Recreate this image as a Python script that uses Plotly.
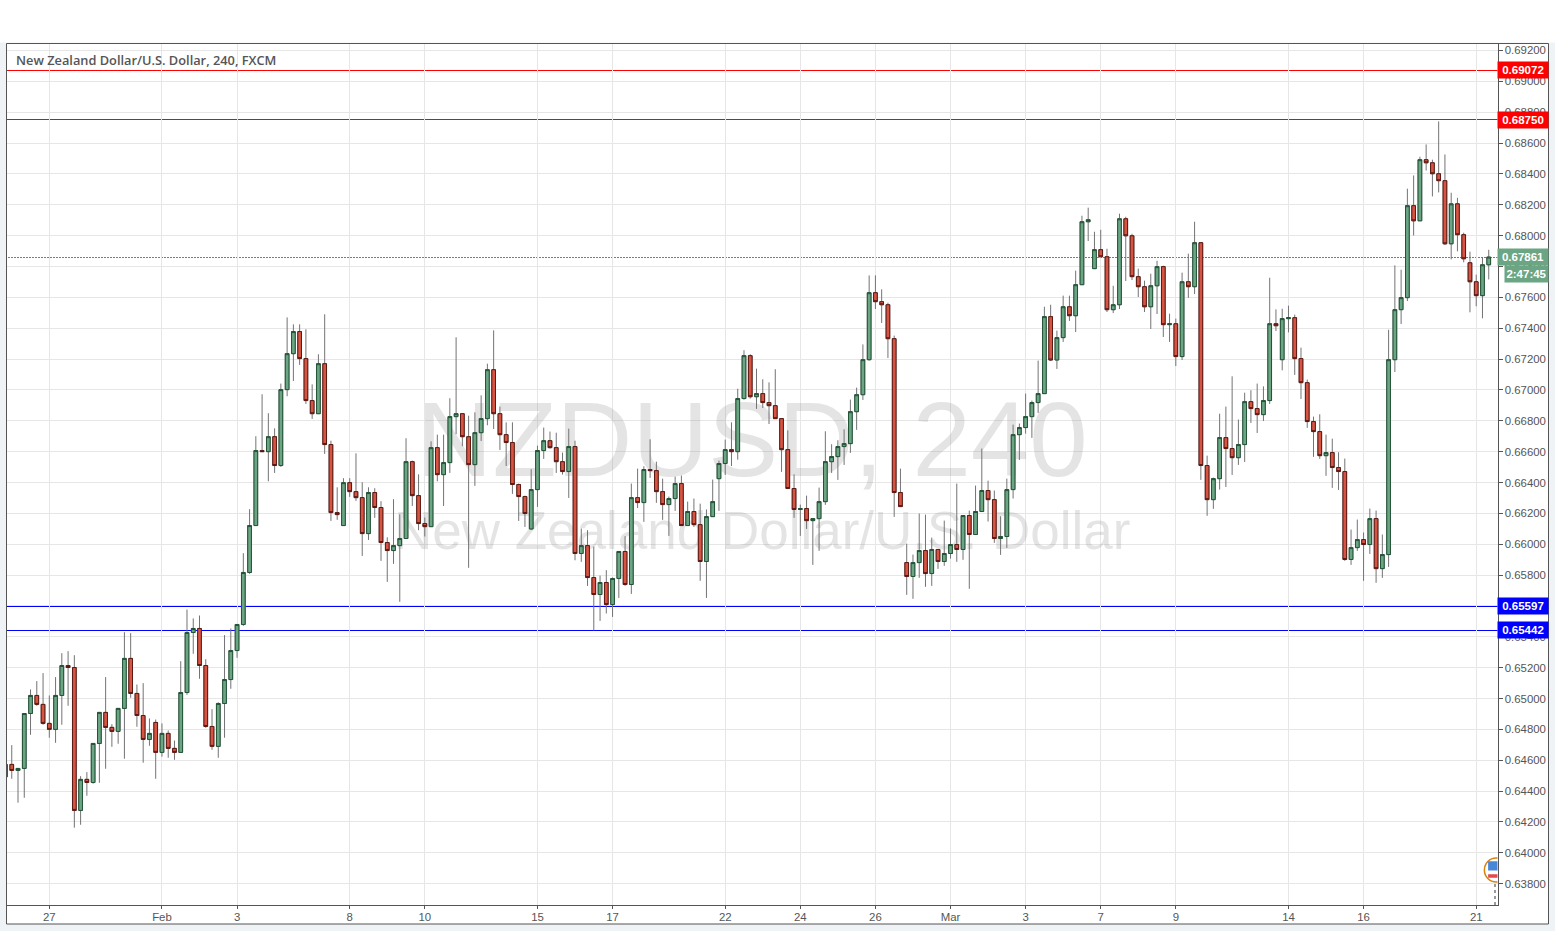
import plotly.graph_objects as go

W, H = 1555, 931

opens = [.64493,.64573,.64534,.64547,.64903,.65020,.64962,.64839,.64800,.65020,
.65214,.65201,.64275,.64476,.64456,.64709,.64910,.64813,.64787,.64936,
.65260,.65033,.64890,.64735,.64845,.64651,.64774,.64677,.64651,.65039,
.65428,.65454,.65214,.64819,.64690,.64968,.65123,.65311,.65480,.65817,
.66121,.66607,.66600,.66697,.66510,.67002,.67235,.67378,.67203,.66931,
.66846,.67170,.66646,.66205,.66121,.66399,.66341,.66302,.66069,.66335,
.66238,.66011,.65959,.65991,.66037,.66535,.66315,.66134,.66114,.66626,
.66451,.66529,.66827,.66846,.66697,.66516,.66723,.66814,.67131,.66846,
.66710,.66659,.66387,.66309,.66099,.66354,.66607,.66671,.66626,.66535,
.66471,.66633,.65940,.65991,.65784,.65674,.65752,.65609,.65778,.65953,
.65739,.66302,.66270,.66484,.66477,.66341,.66257,.66296,.66393,.66121,
.66212,.66127,.65888,.66179,.66425,.66523,.66613,.66600,.66944,.67222,
.66956,.66976,.66918,.66898,.66814,.66613,.66361,.66225,.66231,.66153,
.66166,.66276,.66535,.66568,.66633,.66652,.66859,.66969,.67196,.67630,
.67572,.67552,.67332,.66335,.65881,.65791,.65881,.65959,.65810,.65966,
.65888,.65940,.65998,.65966,.66186,.66063,.66212,.66348,.66289,.66037,
.66050,.66354,.66710,.66756,.66827,.66918,.66976,.67475,.67194,.67339,
.67539,.67481,.67682,.68090,.67786,.67909,.67863,.67520,.67552,.68109,
.67999,.67734,.67669,.67539,.67675,.67799,.67423,.67429,.67216,.67701,
.67669,.67954,.66510,.66289,.66425,.66691,.66620,.66561,.66646,.66924,
.66879,.66840,.66931,.67429,.67196,.67462,.67468,.67203,.67047,.66795,
.66730,.66574,.66594,.66497,.66471,.65901,.65978,.66030,.65998,.66166,
.65842,.65933,.67196,.67520,.67598,.68194,.68096,.68492,.68472,.68401,
.68356,.67947,.68206,.68006,.67824,.67701,.67611,.67811]

highs = [.64573,.64698,.64547,.64903,.65059,.65113,.65165,.65020,.65139,.65294,
.65307,.65281,.64497,.64523,.64709,.64910,.65139,.64834,.64936,.65430,
.65424,.65091,.65100,.64871,.64864,.64839,.64793,.64728,.65242,.65577,
.65519,.65538,.65255,.64931,.64975,.65411,.65454,.65480,.65942,.66227,
.66700,.66972,.66849,.66751,.67041,.67470,.67425,.67425,.67393,.67036,
.67231,.67490,.66671,.66369,.66428,.66428,.66589,.66402,.66369,.66363,
.66279,.66045,.66292,.66194,.66687,.66542,.66453,.66173,.66667,.66710,
.66710,.66946,.67341,.66846,.66833,.66855,.66965,.67170,.67386,.66892,
.66790,.66790,.66393,.66315,.66486,.66639,.66756,.66730,.66723,.66594,
.66749,.66671,.66102,.66091,.65985,.65797,.65832,.65784,.65953,.66052,
.66393,.66490,.66505,.66680,.66535,.66425,.66309,.66438,.66445,.66276,
.66296,.66263,.66225,.66419,.66542,.66678,.66790,.67008,.67257,.67231,
.67138,.67069,.67049,.67134,.66814,.66738,.66453,.66257,.66315,.66166,
.66367,.66732,.66648,.66674,.66745,.66937,.67015,.67295,.67742,.67742,
.67652,.67565,.67352,.66490,.66004,.65933,.66199,.66192,.66043,.65966,
.66153,.66102,.66393,.66186,.66218,.66380,.66620,.66412,.66348,.66181,
.66425,.66775,.66782,.66976,.66931,.67190,.67539,.67552,.67384,.67611,
.67611,.67773,.68129,.68181,.68025,.68038,.67915,.67675,.68142,.68122,
.68012,.67786,.67708,.67753,.67837,.67805,.67494,.67462,.67760,.67883,
.68090,.67954,.66574,.66432,.66846,.66892,.67088,.66808,.66982,.66998,
.67041,.67023,.67727,.67522,.67526,.67546,.67488,.67274,.67067,.66827,
.66842,.66710,.66684,.66596,.66555,.66095,.66160,.66076,.66231,.66218,
.66063,.67390,.67807,.67779,.68304,.68390,.68511,.68591,.68492,.68740,
.68526,.68278,.68245,.68019,.67896,.67747,.67859,.67908]

lows = [.64493,.64480,.64325,.64357,.64765,.64953,.64830,.64746,.64713,.64830,
.64953,.64163,.64182,.64370,.64448,.64454,.64545,.64687,.64707,.64610,
.65005,.64817,.64584,.64694,.64480,.64623,.64616,.64603,.64651,.65024,
.65290,.65128,.64810,.64668,.64616,.64746,.65063,.65264,.65471,.65808,
.66121,.66600,.66408,.66462,.66501,.66959,.67058,.67162,.66909,.66812,
.66846,.66585,.66151,.66158,.66121,.66307,.66281,.65924,.66028,.66171,
.65892,.65756,.65873,.65627,.66037,.66248,.66091,.66050,.66114,.66408,
.66248,.66462,.66713,.66635,.65847,.66378,.66669,.66771,.66747,.66611,
.66507,.66326,.66151,.66112,.66093,.66242,.66553,.66620,.66462,.66451,
.66300,.65896,.65886,.65730,.65441,.65503,.65551,.65529,.65652,.65730,
.65678,.66235,.66145,.66430,.66268,.66158,.66054,.66216,.66121,.66121,
.66112,.65763,.65652,.66179,.66216,.66449,.66507,.66548,.66937,.66944,
.66877,.66883,.66779,.66814,.66469,.66361,.66171,.66054,.66099,.65866,
.65957,.66255,.66462,.66417,.66514,.66592,.66741,.66935,.67190,.67524,
.67434,.67207,.66177,.66244,.65672,.65646,.65782,.65724,.65730,.65840,
.65860,.65907,.65886,.65899,.65711,.66063,.66212,.66147,.66009,.65931,
.65976,.66296,.66546,.66717,.66689,.66851,.66976,.67187,.67136,.67311,
.67447,.67375,.67682,.67965,.67786,.67863,.67505,.67498,.67524,.67706,
.67712,.67602,.67505,.67395,.67492,.67343,.67311,.67155,.67194,.67596,
.67621,.66417,.66184,.66229,.66354,.66371,.66449,.66514,.66533,.66786,
.66721,.66799,.66909,.67382,.67127,.67373,.67097,.66941,.66754,.66566,
.66553,.66443,.66365,.66352,.65892,.65866,.65957,.65763,.65937,.65750,
.65782,.65853,.67116,.67427,.67576,.68001,.68096,.68422,.68254,.68280,
.67939,.67846,.67898,.67827,.67503,.67542,.67464,.67716]

closes = [.64573,.64534,.64547,.64903,.65020,.64962,.64839,.64800,.65020,.65214,
.65201,.64275,.64476,.64456,.64709,.64910,.64813,.64787,.64936,.65260,
.65033,.64890,.64735,.64774,.64651,.64774,.64677,.64651,.65039,.65428,
.65454,.65214,.64819,.64690,.64968,.65123,.65311,.65480,.65817,.66121,
.66607,.66600,.66697,.66510,.67002,.67235,.67378,.67203,.66931,.66846,
.67170,.66646,.66205,.66192,.66399,.66341,.66302,.66069,.66335,.66238,
.66011,.65959,.65991,.66037,.66535,.66315,.66134,.66114,.66626,.66451,
.66529,.66827,.66846,.66697,.66516,.66723,.66814,.67131,.66846,.66710,
.66659,.66387,.66309,.66199,.66354,.66607,.66671,.66626,.66535,.66471,
.66633,.65940,.65991,.65784,.65674,.65752,.65609,.65778,.65953,.65739,
.66302,.66270,.66484,.66477,.66341,.66257,.66296,.66393,.66121,.66212,
.66127,.65888,.66179,.66276,.66523,.66613,.66600,.66944,.67222,.66956,
.66976,.66918,.66898,.66814,.66613,.66361,.66225,.66231,.66153,.66166,
.66276,.66535,.66568,.66633,.66652,.66859,.66969,.67196,.67630,.67572,
.67552,.67332,.66335,.66244,.65791,.65881,.65959,.65810,.65966,.65888,
.65940,.65998,.65966,.66186,.66063,.66212,.66348,.66289,.66037,.66050,
.66354,.66710,.66756,.66827,.66918,.66976,.67475,.67194,.67339,.67539,
.67481,.67682,.68090,.68103,.67909,.67863,.67520,.67552,.68109,.67999,
.67734,.67669,.67539,.67675,.67799,.67423,.67429,.67216,.67701,.67669,
.67954,.66510,.66289,.66425,.66691,.66620,.66561,.66646,.66924,.66879,
.66840,.66931,.67429,.67416,.67462,.67468,.67203,.67047,.66795,.66730,
.66574,.66594,.66497,.66471,.65901,.65978,.66030,.65998,.66166,.65842,
.65933,.67196,.67520,.67598,.68194,.68096,.68492,.68472,.68401,.68356,
.67947,.68206,.68006,.67850,.67701,.67611,.67811,.67861]

candle_index = list(range(-7, 231))
assert len(opens) == len(highs) == len(lows) == len(closes) == len(candle_index)

date_positions = [0, 18, 30, 48, 60, 78, 90, 108, 120, 132, 144, 156, 168, 180, 198, 210, 228]
date_labels = ["27", "Feb", "3", "8", "10", "15", "17", "22", "24", "26", "Mar", "3", "7", "9", "14", "16", "21"]

resistance_levels = [0.69072, 0.68750]
support_levels = [0.65597, 0.65442]
last_price = 0.67861
countdown = "2:47:45"

title_text = "New Zealand Dollar/U.S. Dollar, 240, FXCM"
watermark_symbol = "NZDUSD, 240"
watermark_name = "New Zealand Dollar/U.S. Dollar"

UP, DOWN = "#6BA583", "#D75442"
UP_EDGE, DOWN_EDGE = "#225437", "#5B1A13"
WICK = "#737375"
GRID = "#E6E6E6"
AXIS = "#555555"
TEXT = "#555555"
PAGE = "#F0F3F6"
LAST_LINE = "#3A9F70"

Y_RANGE = [0.63662, 0.69245]
X_RANGE = [-6.76, 231.4]


def px(x):
    return x / W


def py(y):
    return 1 - y / H


fig = go.Figure()

# Watermark on the base y axis so candles paint over it
fig.add_trace(go.Scatter(
    x=[112.3], y=[0.66615], mode="text", text=[watermark_symbol], yaxis="y",
    textfont=dict(family="Liberation Sans", size=105, color="rgba(120,120,120,0.2)"),
    textposition="middle center", hoverinfo="skip", showlegend=False,
))
fig.add_trace(go.Scatter(
    x=[113.9], y=[0.66052], mode="text", text=[watermark_name], yaxis="y",
    textfont=dict(family="Liberation Sans", size=53, color="rgba(120,120,120,0.2)"),
    textposition="middle center", hoverinfo="skip", showlegend=False,
))

# Wicks: full OHLC with gray line
fig.add_trace(go.Candlestick(
    x=candle_index, open=opens, high=highs, low=lows, close=closes, yaxis="y2",
    increasing=dict(line=dict(color=WICK, width=1), fillcolor=UP),
    decreasing=dict(line=dict(color=WICK, width=1), fillcolor=DOWN),
    whiskerwidth=0, hoverinfo="skip", showlegend=False,
))
# Bodies: same candles, range limited to open/close, with dark outline
fig.add_trace(go.Candlestick(
    x=candle_index, open=opens, close=closes, yaxis="y2",
    high=[max(o, c) for o, c in zip(opens, closes)],
    low=[min(o, c) for o, c in zip(opens, closes)],
    increasing=dict(line=dict(color=UP_EDGE, width=1), fillcolor=UP),
    decreasing=dict(line=dict(color=DOWN_EDGE, width=1), fillcolor=DOWN),
    whiskerwidth=0, hoverinfo="skip", showlegend=False,
))

shapes = [
    dict(type="rect", xref="paper", yref="paper", x0=0, x1=1, y0=py(42.5), y1=1,
         fillcolor="white", line_width=0, layer="below"),
    dict(type="rect", xref="paper", yref="paper", x0=px(6.5), x1=px(1548.5), y0=py(924), y1=py(43.5),
         fillcolor="white", line=dict(color=AXIS, width=1), layer="below"),
]
for level in resistance_levels:
    shapes.append(dict(type="line", xref="x", yref="y", x0=-8, x1=232, y0=level, y1=level,
                       line=dict(color="#FF0000", width=1), layer="below"))
for level in support_levels:
    shapes.append(dict(type="line", xref="x", yref="y", x0=-8, x1=232, y0=level, y1=level,
                       line=dict(color="#0000FF", width=1), layer="below"))
shapes.append(dict(type="line", xref="x", yref="y", x0=-8, x1=232, y0=last_price, y1=last_price,
                   line=dict(color=LAST_LINE, width=1, dash="2px,1px"), layer="below"))

# Event flag clipped by the price axis
shapes += [
    dict(type="circle", xref="x", yref="y", x0=229.3, x1=233.1, y0=0.63811, y1=0.63967,
         fillcolor="white", line=dict(color="#D9820F", width=1.5), layer="above"),
    dict(type="rect", xref="x", yref="y", x0=229.9, x1=232, y0=0.63885, y1=0.63945,
         fillcolor="#4A86D8", line_width=0, layer="above"),
    dict(type="rect", xref="x", yref="y", x0=229.9, x1=232, y0=0.63838, y1=0.63862,
         fillcolor="#E5484D", line_width=0, layer="above"),
    dict(type="line", xref="x", yref="y", x0=231.05, x1=231.05, y0=0.6366, y1=0.6381,
         line=dict(color="#9A9A9A", width=2, dash="dot"), layer="above"),
]

annotations = [
    dict(text=title_text, xref="paper", yref="paper", x=px(14), y=py(60.5), xanchor="left", yanchor="middle",
         showarrow=False, font=dict(family="Open Sans", size=12.8, color=TEXT, weight=600)),
]
for level, colour in [(resistance_levels[0], "#FF0000"), (resistance_levels[1], "#FF0000"),
                      (support_levels[0], "#0000FF"), (support_levels[1], "#0000FF"),
                      (last_price, UP)]:
    annotations.append(dict(text=f"{level:.5f}", xref="paper", yref="y", x=px(1523), y=level,
                            xanchor="center", yanchor="middle", showarrow=False, width=50, height=16,
                            bgcolor=colour, borderpad=0,
                            font=dict(family="Liberation Sans", size=11.5, color="white", weight="bold")))
annotations.append(dict(text=countdown, xref="paper", yref="paper", x=px(1526.5), y=py(273.7),
                        xanchor="center", yanchor="middle", showarrow=False, width=43, height=16,
                        bgcolor=UP, borderpad=0,
                        font=dict(family="Liberation Sans", size=11.5, color="white", weight="bold")))

fig.update_layout(
    width=W, height=H, autosize=False,
    margin=dict(l=0, r=0, t=0, b=0, pad=0),
    paper_bgcolor=PAGE, plot_bgcolor="white",
    showlegend=False, hovermode=False, dragmode=False,
    boxgap=0.41, boxgroupgap=0,
    shapes=shapes, annotations=annotations,
    xaxis=dict(
        domain=[px(7), px(1497.5)], range=X_RANGE, rangeslider=dict(visible=False),
        tickmode="array", tickvals=date_positions, ticktext=date_labels,
        showgrid=True, gridcolor=GRID, gridwidth=1, zeroline=False,
        showline=True, linecolor=AXIS, linewidth=1, ticks="outside", ticklen=3, tickcolor=AXIS,
        ticklabelstandoff=-2,
        tickfont=dict(family="Liberation Sans", size=11.4, color=TEXT), fixedrange=True,
    ),
    yaxis=dict(
        domain=[py(905), py(43.5)], range=Y_RANGE, side="right",
        tick0=0.638, dtick=0.002, tickformat=".5f",
        showgrid=True, gridcolor=GRID, gridwidth=1, zeroline=False,
        showline=True, linecolor=AXIS, linewidth=1, ticks="outside", ticklen=4, tickcolor=AXIS,
        tickfont=dict(family="Liberation Sans", size=11.4, color=TEXT), fixedrange=True,
    ),
    yaxis2=dict(overlaying="y", range=Y_RANGE, side="right", visible=False, fixedrange=True),
)

fig.write_html(
    "out.html",
    config=dict(displayModeBar=False, staticPlot=True),
    post_script=(
        "document.body.style.margin='0';document.body.style.overflow='hidden';"
        "document.querySelectorAll('.shapelayer path').forEach(function(p){"
        "if(p.getAttribute('d')&&p.getAttribute('d').indexOf('L')>0&&p.getAttribute('d').indexOf('Z')<0)"
        "{p.style.shapeRendering='crispEdges';}});"
    ),
)
